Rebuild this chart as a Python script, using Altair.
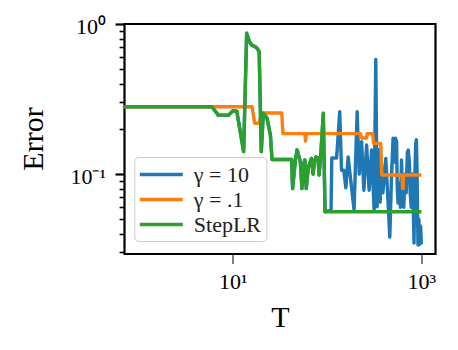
import altair as alt
import pandas as pd

# ---- data (T, Error) ----
series_names = ["γ = 10", "γ = .1", "StepLR"]
series_colors = ["#1f77b4", "#ff7f0e", "#2ca02c"]

T_blue = [0.7, 6, 7, 9, 10, 11, 13, 14, 15, 16, 17, 18, 19, 20, 21, 23, 25, 26,
          42, 43, 46, 48, 52, 54, 57, 58, 60, 63, 68, 71, 73, 76, 80, 82, 86, 91, 95,
          110, 112, 126, 136, 142, 150, 158, 167, 193, 208, 219, 232, 245, 262, 279,
          296, 315, 328, 339, 345, 355, 365, 375, 390, 405, 419, 440, 462, 480, 500,
          515, 530, 545, 555, 565, 580, 600, 615, 630, 650, 670, 690, 710, 725, 745,
          760, 780, 800, 820, 835, 850, 870, 885, 900, 920, 940, 960, 980, 999]
err_blue = [0.281, 0.281, 0.247, 0.247, 0.264, 0.262, 0.141, 0.867, 0.762, 0.72, 0.71,
            0.69, 0.654, 0.141, 0.254, 0.236, 0.182, 0.125,
            0.125, 0.080, 0.124, 0.145, 0.12, 0.080, 0.12, 0.124, 0.080, 0.11, 0.127,
            0.10, 0.12, 0.13, 0.128, 0.0985, 0.141, 0.254, 0.056,
            0.0575, 0.128, 0.128, 0.26, 0.106, 0.106, 0.081, 0.13, 0.0575, 0.26, 0.10,
            0.164, 0.078, 0.156, 0.078, 0.1445, 0.0575, 0.58, 0.0605, 0.10, 0.145,
            0.065, 0.12, 0.075, 0.10, 0.127, 0.07, 0.038, 0.09, 0.173, 0.12, 0.173,
            0.165, 0.08, 0.064, 0.087, 0.06, 0.124, 0.07, 0.06, 0.10, 0.075, 0.14,
            0.1445, 0.12, 0.075, 0.06, 0.10, 0.06, 0.0347, 0.09, 0.16, 0.169, 0.10,
            0.0336, 0.05, 0.034, 0.045, 0.034]

T_orange = [0.7, 16, 17, 19, 20, 33, 34, 58, 59, 60, 225, 232, 262, 266, 305, 310,
            370, 380, 625, 632, 640, 646, 999]
err_orange = [0.281, 0.281, 0.218, 0.218, 0.255, 0.255, 0.186, 0.186, 0.166, 0.186,
              0.186, 0.174, 0.174, 0.186, 0.186, 0.16, 0.16, 0.0985, 0.0985, 0.080,
              0.080, 0.0985, 0.0985]

T_green = [0.7, 6, 7, 9, 10, 11, 13, 14, 15, 16, 17, 18, 19, 20, 21, 23, 25, 26,
           42, 43, 46, 48, 52, 54, 57, 58, 60, 63, 68, 71, 73, 76, 80, 82, 86, 91, 95, 999]
err_green = [0.281, 0.281, 0.247, 0.247, 0.264, 0.262, 0.141, 0.867, 0.762, 0.72, 0.71,
             0.69, 0.654, 0.141, 0.254, 0.236, 0.182, 0.125,
             0.125, 0.080, 0.124, 0.145, 0.12, 0.080, 0.12, 0.124, 0.080, 0.11, 0.127,
             0.10, 0.12, 0.13, 0.128, 0.0985, 0.141, 0.254, 0.056, 0.056]

x_ticks = [10, 1000]
y_ticks = [0.03, 0.04, 0.05, 0.06, 0.07, 0.08, 0.09, 0.1,
           0.2, 0.3, 0.4, 0.5, 0.6, 0.7, 0.8, 0.9, 1.0]

rows = []
for name, ts, vs in zip(series_names, [T_blue, T_orange, T_green],
                        [err_blue, err_orange, err_green]):
    for t, v in zip(ts, vs):
        rows.append({"T": t, "Error": v, "series": name})
df = pd.DataFrame(rows)

FONT = "Liberation Serif"
major_test = "abs(datum.value - 1) < 1e-9 || abs(datum.value - 0.1) < 1e-9"

x_enc = alt.X(
    "T:Q",
    scale=alt.Scale(type="log", domain=[0.708, 1411], nice=False),
    axis=alt.Axis(
        values=x_ticks,
        labelExpr="datum.value < 100 ? '10¹' : '10³'",
        title="T",
        titleX=155.5,
        titleY=72,
        titleBaseline="alphabetic",
        titleAlign="center",
        tickSize=9.5,
        labelPadding=8,
        labelBaseline="top",
        labelFlush=False,
    ),
)
y_enc = alt.Y(
    "Error:Q",
    scale=alt.Scale(type="log", domain=[0.0293, 1.0], nice=False),
    axis=alt.Axis(
        values=y_ticks,
        labelExpr="abs(datum.value - 1) < 1e-9 ? '10⁰' : (abs(datum.value - 0.1) < 1e-9 ? '10⁻¹' : '')",
        title="Error",
        titleX=-82.5,
        titleY=114.5,
        titleAngle=270,
        titleBaseline="alphabetic",
        titleAlign="center",
        tickSize={"condition": {"test": major_test, "value": 9.5}, "value": 5.4},
        tickWidth={"condition": {"test": major_test, "value": 2.2}, "value": 1.6},
        labelPadding=9.5,
        labelBaseline="middle",
        labelOffset=2,
        labelFlush=False,
    ),
)

legend = alt.Legend(
    title=None,
    orient="none",
    legendX=9.8,
    legendY=133,
    symbolType="M-2,0H2",
    symbolSize=462,
    symbolStrokeWidth=3.4,
    symbolOffset=9.5,
    labelOffset=20,
    labelFont=FONT,
    labelFontSize=22,
    labelColor="#222222",
    fillColor="rgba(255,255,255,0.8)",
    strokeColor="#cccccc",
    cornerRadius=4,
    padding=5,
    rowPadding=1,
)

color_enc = alt.Color(
    "series:N",
    scale=alt.Scale(domain=series_names, range=series_colors),
    legend=legend,
)

layers = []
for name in series_names:
    layers.append(
        alt.Chart(df)
        .transform_filter(alt.datum.series == name)
        .mark_line(clip=True, strokeWidth=3.4, strokeJoin="round", strokeCap="butt")
        .encode(x=x_enc, y=y_enc, color=color_enc)
    )

chart = (
    alt.layer(*layers)
    .properties(
        width=311,
        height=230,
        autosize=alt.AutoSizeParams(type="none"),
        padding={"left": 116.5, "top": 16, "right": 10, "bottom": 80},
        background="white",
    )
    .configure(font=FONT)
    .configure_view(stroke="black", strokeWidth=2.2)
    .configure_axis(
        domain=False,
        grid=False,
        tickColor="black",
        labelColor="black",
        titleColor="black",
        labelFont=FONT,
        labelFontSize=22,
        titleFont=FONT,
        titleFontSize=30,
        titleFontWeight="normal",
    )
    .configure_legend(labelFont=FONT, labelFontSize=22)
)

chart.save("out.html", embed_options={"renderer": "svg", "actions": False})
